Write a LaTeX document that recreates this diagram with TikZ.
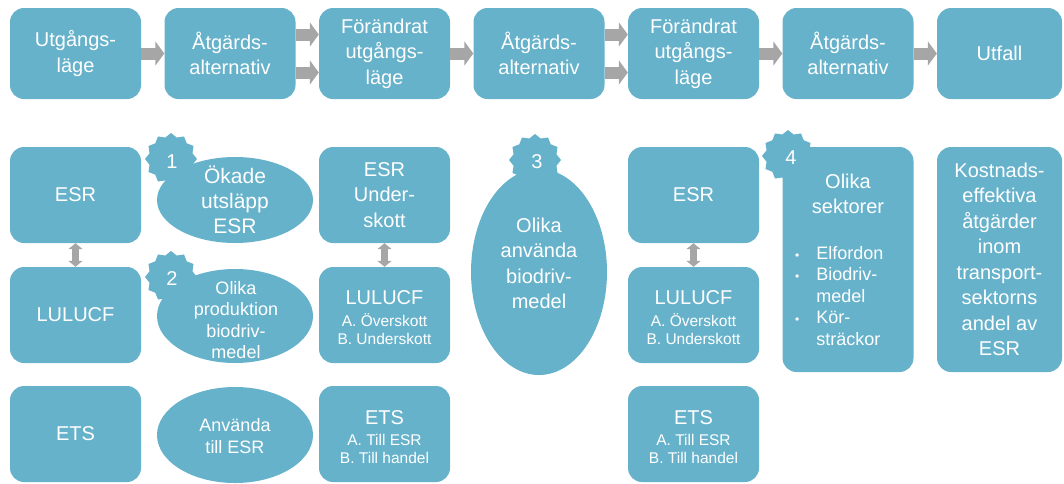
\documentclass[tikz,border=0pt]{standalone}
\usepackage{fontspec}
\setmainfont{Liberation Sans}
\usetikzlibrary{shapes.geometric,arrows.meta}
\definecolor{boxblue}{HTML}{67B2CB}
\definecolor{arrgray}{HTML}{A6A6A6}
\begin{document}
\begin{tikzpicture}[x=1pt,y=-1pt,
  box/.style={fill=boxblue, rounded corners=14pt, text=white, align=center, inner sep=0pt, font=\fontsize{20}{25.5}\selectfont},
  oval/.style={ellipse, fill=boxblue, inner sep=0pt},
  seal/.style={star, star points=12, star point ratio=1.17, fill=boxblue, inner sep=0pt, minimum size=52pt},
  num/.style={text=white, inner sep=0pt, font=\fontsize{20}{24}\selectfont},
  flow/.style={draw=arrgray, line width=12pt, -{Triangle[length=9pt,width=24pt]}},
  link/.style={draw=arrgray, line width=7pt, {Triangle[length=6pt,width=14pt]}-{Triangle[length=6pt,width=14pt]}},
  txt/.style={text=white, align=center, inner sep=0pt},
  big/.style={font=\fontsize{20}{25.5}\selectfont},
  small/.style={font=\fontsize{15.5}{18.5}\selectfont}
]
\useasboundingbox (0,0) rectangle (1064,483);

% top row
\node[box, minimum width=131pt, minimum height=91pt] (t1) at (75.5,53.5) {Utgångs-\\läge};
\node[box, minimum width=131pt, minimum height=91pt] (t2) at (230,53.5) {Åtgärds-\\alternativ};
\node[box, minimum width=131pt, minimum height=91pt] (t3) at (384.5,53.5) {Förändrat\\utgångs-\\läge};
\node[box, minimum width=131pt, minimum height=91pt] (t4) at (539,53.5) {Åtgärds-\\alternativ};
\node[box, minimum width=131pt, minimum height=91pt] (t5) at (693.5,53.5) {Förändrat\\utgångs-\\läge};
\node[box, minimum width=131pt, minimum height=91pt] (t6) at (848,53.5) {Åtgärds-\\alternativ};
\node[box, minimum width=125pt, minimum height=91pt] (t7) at (999.5,53.5) {Utfall};

\draw[flow] (t1) -- (t2);
\draw[flow] ([yshift=19pt]t2.east) -- ([yshift=19pt]t3.west);
\draw[flow] ([yshift=-19pt]t2.east) -- ([yshift=-19pt]t3.west);
\draw[flow] (t3) -- (t4);
\draw[flow] ([yshift=19pt]t4.east) -- ([yshift=19pt]t5.west);
\draw[flow] ([yshift=-19pt]t4.east) -- ([yshift=-19pt]t5.west);
\draw[flow] (t5) -- (t6);
\draw[flow] (t6) -- (t7);

% column 1
\node[box, minimum width=131pt, minimum height=96pt] (e1) at (75.5,195) {ESR};
\node[box, minimum width=131pt, minimum height=96pt] (l1) at (75.5,315) {LULUCF};
\node[box, minimum width=131pt, minimum height=96pt] (x1) at (75.5,434) {ETS};
\draw[link] (e1) -- (l1);

% column 2
\node[oval, minimum width=156pt, minimum height=86pt] (o1) at (235,200) {};
\node[oval, minimum width=156pt, minimum height=94pt] (o2) at (235,316) {};
\node[oval, minimum width=156pt, minimum height=96pt] (o3) at (235,435) {};
\node[seal] (s1) at (171,159) {};
\node[seal] (s2) at (171,277) {};
\node[num] (n1) at (172,162) {1};
\node[num] (n2) at (172,279) {2};
\node[txt, font=\fontsize{21}{25}\selectfont] (o1t) at (235,200) {Ökade\\utsläpp\\ESR};
\node[txt, font=\fontsize{18}{21.5}\selectfont] (o2t) at (236,320) {Olika\\produktion\\biodriv-\\medel};
\node[txt, font=\fontsize{18}{22}\selectfont] (o3t) at (235,436) {Använda\\till ESR};

% column 3
\node[box, minimum width=131pt, minimum height=96pt] (e3) at (384.5,195) {ESR\\Under-\\skott};
\node[box, minimum width=131pt, minimum height=96pt] (l3) at (384.5,315) {};
\node[box, minimum width=131pt, minimum height=96pt] (x3) at (384.5,434) {};
\node[txt, big] (l3a) at (384.5,298) {LULUCF};
\node[txt, small] (l3b) at (384.5,329) {A. Överskott\\B. Underskott};
\node[txt, big] (x3a) at (384.5,418) {ETS};
\node[txt, small] (x3b) at (384.5,449) {A. Till ESR\\B. Till handel};
\draw[link] (e3) -- (l3);

% column 4
\node[oval, minimum width=136pt, minimum height=206pt] (o4) at (539,272) {};
\node[seal] (s3) at (535,160) {};
\node[num] (n3) at (537,162) {3};
\node[txt, big] (o4t) at (539,263.5) {Olika\\använda\\biodriv-\\medel};

% column 5
\node[box, minimum width=131pt, minimum height=96pt] (e5) at (693.5,195) {ESR};
\node[box, minimum width=131pt, minimum height=96pt] (l5) at (693.5,315) {};
\node[box, minimum width=131pt, minimum height=96pt] (x5) at (693.5,434) {};
\node[txt, big] (l5a) at (693.5,298) {LULUCF};
\node[txt, small] (l5b) at (693.5,329) {A. Överskott\\B. Underskott};
\node[txt, big] (x5a) at (693.5,418) {ETS};
\node[txt, small] (x5b) at (693.5,449) {A. Till ESR\\B. Till handel};
\draw[link] (e5) -- (l5);

% column 6
\node[box, minimum width=131pt, minimum height=225pt] (k6) at (848,259.5) {};
\node[seal] (s4) at (788,156) {};
\node[num] (n4) at (791,158) {4};
\node[txt, big] (k6a) at (848,194) {Olika\\sektorer};
\node[txt, anchor=west, font=\fontsize{18}{21.5}\selectfont] (k6b) at (795,298)
  {\begin{tabular}{@{}l@{\hspace{17pt}}l@{}}{\fontsize{12}{12}\selectfont •}&Elfordon\\{\fontsize{12}{12}\selectfont •}&Biodriv-\\&medel\\{\fontsize{12}{12}\selectfont •}&Kör-\\&sträckor\end{tabular}};

% column 7
\node[box, minimum width=125pt, minimum height=225pt] (k7) at (999.5,259.5) {Kostnads-\\effektiva\\åtgärder\\inom\\transport-\\sektorns\\andel av\\ESR};
\end{tikzpicture}
\end{document}
